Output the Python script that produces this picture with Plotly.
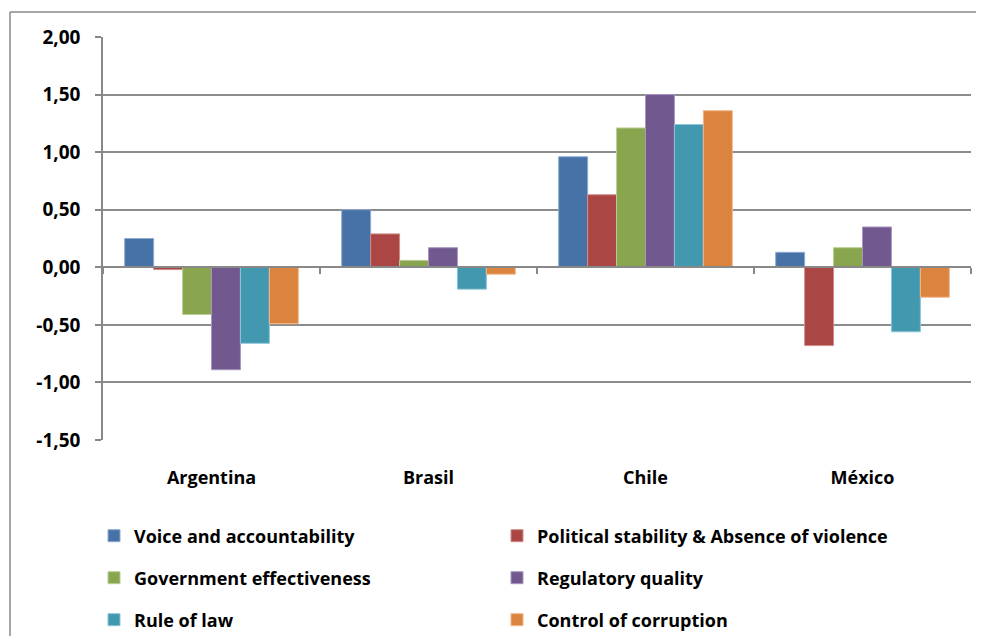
import plotly.graph_objects as go

countries = ["Argentina", "Brasil", "Chile", "México"]
series_names = ["Voice and accountability", "Political stability & Absence of violence",
                "Government effectiveness", "Regulatory quality",
                "Rule of law", "Control of corruption"]
voice = [0.25, 0.50, 0.96, 0.13]
political = [-0.02, 0.29, 0.63, -0.68]
government = [-0.41, 0.06, 1.21, 0.17]
regulatory = [-0.89, 0.17, 1.50, 0.35]
rule_of_law = [-0.66, -0.19, 1.24, -0.56]
corruption = [-0.49, -0.06, 1.36, -0.26]
y_tick_values = [-1.5, -1.0, -0.5, 0.0, 0.5, 1.0, 1.5, 2.0]
y_tick_labels = ["-1,50", "-1,00", "-0,50", "0,00", "0,50", "1,00", "1,50", "2,00"]

values = [voice, political, government, regulatory, rule_of_law, corruption]
colors = ["#4672A8", "#AA4643", "#89A54E", "#71588F", "#4198AF", "#DB843D"]
edges = ["#8FAAD0", "#D08C8A", "#B9CF93", "#A896BF", "#8CC5D6", "#F0B68A"]
legend_ids = ["legend", "legend", "legend2", "legend2", "legend3", "legend3"]

FONT = "Open Sans"
fig = go.Figure()
for name, vals, c, e, lg in zip(series_names, values, colors, edges, legend_ids):
    fig.add_trace(go.Bar(x=countries, y=vals, name=name,
                         marker=dict(color=c, line=dict(color=e, width=1)),
                         legend=lg))

# invisible helper trace for the category axis drawn at zero
fig.add_trace(go.Scatter(x=countries, y=[0] * len(countries), xaxis="x2",
                         mode="markers", marker=dict(opacity=0),
                         showlegend=False, hoverinfo="skip"))

ymin, ymax = -1.5, 2.0
zero_pos = (0 - ymin) / (ymax - ymin)

# page body has an 8px margin; figure sized to fit the window without scrolling
OFF = 8
W, H = 984 - 2 * OFF, 644 - 2 * OFF
PW, PH = 868, 403
ML, MT = 103 - OFF, 37 - OFF
MR = W - ML - PW
MB = H - MT - PH
legend_common = dict(orientation="h", xanchor="left", yanchor="middle",
                     x=-9 / PW, entrywidth=358, entrywidthmode="pixels",
                     font=dict(family=FONT, size=18, color="#000000", weight="bold"),
                     bgcolor="rgba(0,0,0,0)", itemclick=False, itemdoubleclick=False)

fig.update_layout(
    width=W, height=H,
    margin=dict(l=ML, r=MR, t=MT, b=MB, autoexpand=False),
    paper_bgcolor="white", plot_bgcolor="white",
    barmode="group", bargap=0.2, bargroupgap=0,
    font=dict(family=FONT, color="#000000"),
    xaxis=dict(showline=False, ticks="", showgrid=False,
               tickfont=dict(family=FONT, size=18, weight="bold"),
               ticklabelstandoff=25),
    xaxis2=dict(overlaying="x", matches="x", anchor="free", position=zero_pos,
                showline=True, linecolor="#888888", linewidth=1.5,
                ticks="outside", tickson="boundaries", ticklen=6,
                tickcolor="#888888", tickwidth=1.5,
                showticklabels=False, showgrid=False, side="bottom"),
    yaxis=dict(range=[ymin, ymax], tickmode="array",
               tickvals=y_tick_values, ticktext=y_tick_labels,
               showgrid=True, gridcolor="#8C8C8C", gridwidth=1.5,
               showline=True, linecolor="#888888", linewidth=1.5,
               ticks="outside", ticklen=6, tickcolor="#888888", tickwidth=1.5,
               zeroline=False, ticklabelstandoff=11,
               tickfont=dict(family=FONT, size=19, weight="bold")),
    legend=dict(**legend_common, y=(440 - 536) / PH),
    legend2=dict(**legend_common, y=(440 - 578) / PH),
    legend3=dict(**legend_common, y=(440 - 620) / PH),
    showlegend=True,
)

# outer chart border (left and top edges visible in the frame)
bx0 = (10 - 103) / PW
bx1 = (W - ML) / PW
by1 = 1 + (37 - 12) / PH
by0 = -MB / PH
fig.add_shape(type="line", xref="paper", yref="paper",
              x0=bx0, x1=bx0, y0=by0, y1=by1,
              line=dict(color="#888888", width=1.5))
fig.add_shape(type="line", xref="paper", yref="paper",
              x0=bx0, x1=bx1, y0=by1, y1=by1,
              line=dict(color="#888888", width=1.5))

fig.write_html("out.html", config=dict(displayModeBar=False))
